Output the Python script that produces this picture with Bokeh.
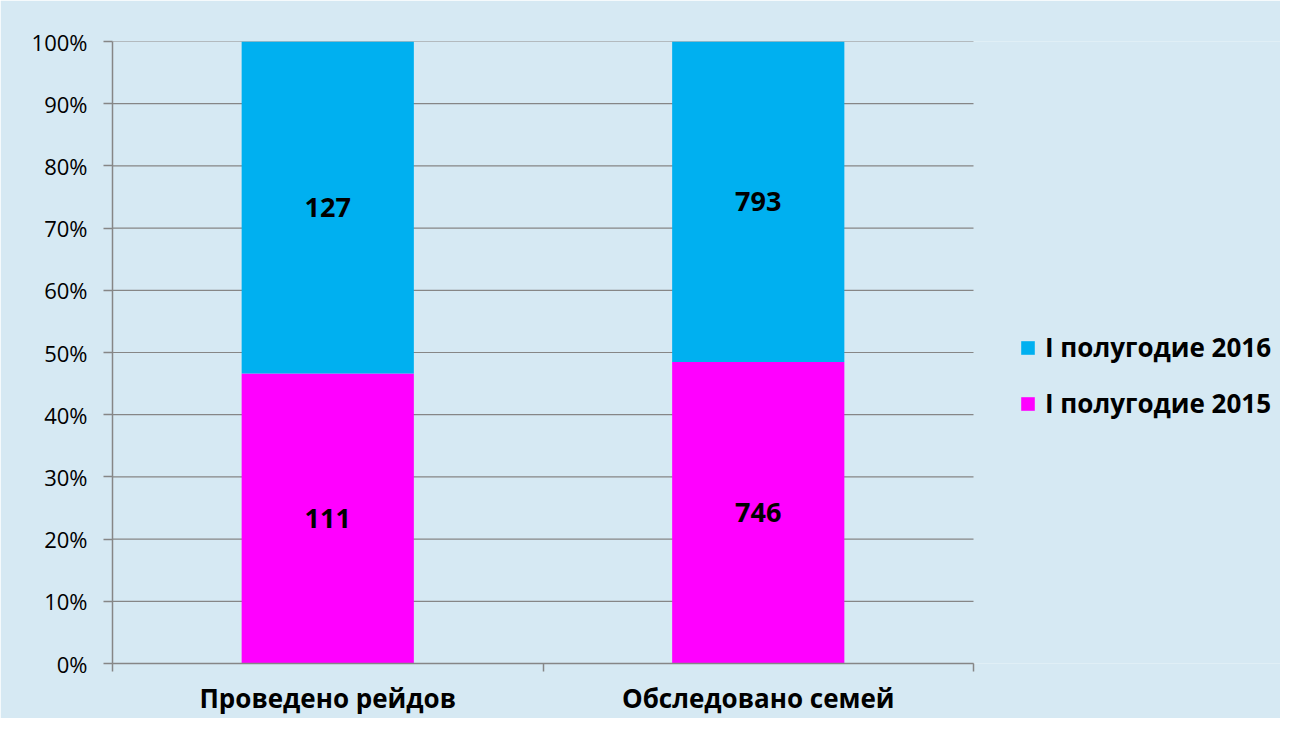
from bokeh.plotting import figure
from bokeh.models import Range1d, FixedTicker, Legend, LegendItem, ColumnDataSource, NumeralTickFormatter
from bokeh.core.properties import value
from bokeh.embed import file_html
from bokeh.resources import INLINE

categories = ["Проведено рейдов", "Обследовано семей"]
series_names = ["I полугодие 2016", "I полугодие 2015"]
values_2016 = [127, 793]
values_2015 = [111, 746]
colors = ["#00B0F0", "#FF00FF"]
y_ticks = [0, 0.1, 0.2, 0.3, 0.4, 0.5, 0.6, 0.7, 0.8, 0.9, 1.0]

FONT = "Open Sans"
GRID = "#868686"
BG = "#d6e9f3"

n = len(categories)
xpos = [i + 0.5 for i in range(n)]
totals = [a + b for a, b in zip(values_2015, values_2016)]
share15 = [b / t for b, t in zip(values_2015, totals)]

src = ColumnDataSource(dict(
    x=xpos,
    b0=[0] * n,
    t15=share15,
    t16=[1.0] * n,
    m15=[s / 2 for s in share15],
    m16=[s + (1 - s) / 2 for s in share15],
    l15=[str(v) for v in values_2015],
    l16=[str(v) for v in values_2016],
))

# plot area spans 112..973 px for the categories; the frame continues to the right edge for the legend
W, LEFT, RIGHT_PLOT = 1280, 112, 973
x_end = n * (W - LEFT) / (RIGHT_PLOT - LEFT)

p = figure(width=W, height=718, output_backend="svg", toolbar_location=None,
           x_range=Range1d(0, x_end), y_range=Range1d(0, 1))
p.min_border_left = LEFT
p.min_border_right = 0
p.min_border_top = 41
p.min_border_bottom = 0
p.background_fill_color = BG
p.border_fill_color = BG
p.outline_line_color = None

# horizontal grid lines limited to the category area
p.segment(x0=[0] * len(y_ticks), x1=[n] * len(y_ticks), y0=y_ticks, y1=y_ticks,
          line_color=GRID, line_width=1.2)

r15 = p.vbar(x="x", bottom="b0", top="t15", width=0.4, source=src,
             fill_color=colors[1], line_color=None)
r16 = p.vbar(x="x", bottom="t15", top="t16", width=0.4, source=src,
             fill_color=colors[0], line_color=None)

for ycol, tcol in (("m15", "l15"), ("m16", "l16")):
    p.text(x="x", y=ycol, text=tcol, source=src, text_align="center",
           text_baseline="middle", text_font=value(FONT), text_font_style="bold",
           text_font_size="27px", text_color="#000000")

# y axis
p.yaxis.ticker = FixedTicker(ticks=y_ticks)
p.yaxis.formatter = NumeralTickFormatter(format="0%")
p.yaxis.major_label_text_font = FONT
p.yaxis.major_label_text_font_size = "22px"
p.yaxis.major_label_text_color = "#000000"
p.yaxis.major_tick_in = 0
p.yaxis.major_tick_out = 9
p.yaxis.minor_tick_out = 0
p.yaxis.minor_tick_in = 0
p.yaxis.major_label_standoff = 16
p.yaxis.axis_line_color = GRID
p.yaxis.axis_line_width = 1.5
p.yaxis.major_tick_line_color = GRID
p.yaxis.major_tick_line_width = 1.5

# x axis
p.xaxis.bounds = (0, n)
p.xaxis.ticker = FixedTicker(ticks=xpos, minor_ticks=list(range(n + 1)))
p.xaxis.major_label_overrides = {x: c for x, c in zip(xpos, categories)}
p.xaxis.major_tick_out = 0
p.xaxis.major_tick_in = 0
p.xaxis.minor_tick_out = 8
p.xaxis.minor_tick_in = 0
p.xaxis.minor_tick_line_color = GRID
p.xaxis.minor_tick_line_width = 1.5
p.xaxis.axis_line_color = GRID
p.xaxis.axis_line_width = 1.5
p.xaxis.major_label_text_font = FONT
p.xaxis.major_label_text_font_style = "bold"
p.xaxis.major_label_text_font_size = "26px"
p.xaxis.major_label_text_color = "#000000"
p.xaxis.major_label_standoff = 8

p.xgrid.grid_line_color = None
p.ygrid.grid_line_color = None

legend = Legend(items=[LegendItem(label=series_names[0], renderers=[r16]),
                       LegendItem(label=series_names[1], renderers=[r15])],
                location=(907, 242))
legend.background_fill_alpha = 0
legend.border_line_color = None
legend.padding = 0
legend.margin = 0
legend.glyph_width = 17
legend.glyph_height = 17
legend.label_height = 35
legend.spacing = 20
legend.label_standoff = 9
legend.label_text_font = FONT
legend.label_text_font_style = "bold"
legend.label_text_font_size = "26px"
legend.label_text_color = "#000000"
p.add_layout(legend, "center")

open("out.html", "w").write(file_html(p, INLINE))
